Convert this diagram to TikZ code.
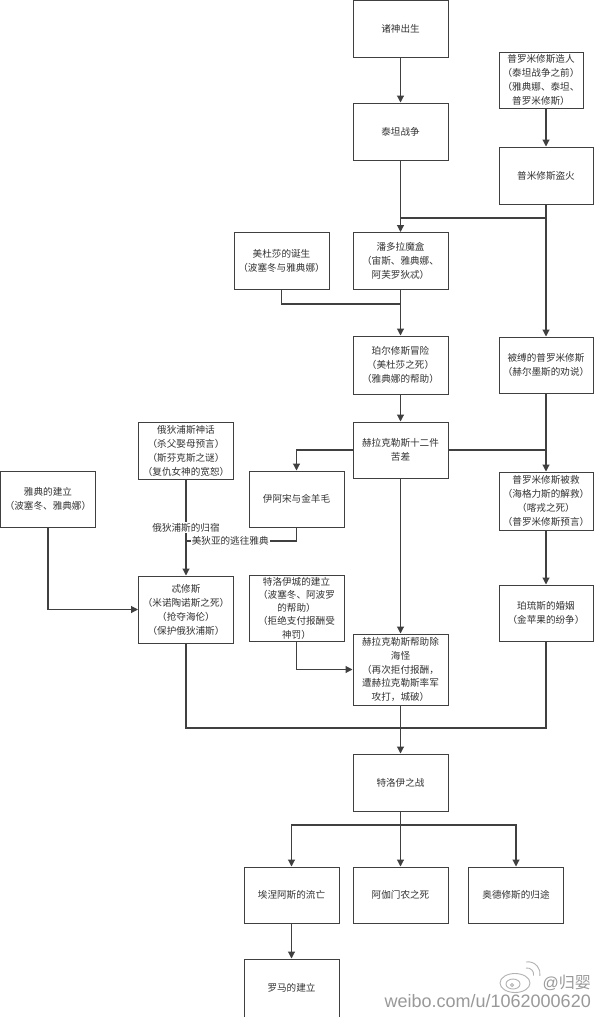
\documentclass[tikz,border=0pt]{standalone}
\usepackage{fontspec}
\setmainfont{Liberation Sans}
\newfontfamily\cn{Noto Sans CJK SC}
\usetikzlibrary{arrows.meta}
\begin{document}
\begin{tikzpicture}[x=1pt,y=-1pt,
  box/.style={draw=black!75, line width=1pt, inner sep=0pt, align=center, fill=white,
    font=\cn\fontsize{9.6}{14}\selectfont, text=black!80, minimum width=95pt, minimum height=57pt},
  ln/.style={draw=black!75, line width=1.1pt},
  arr/.style={ln, -{Triangle[width=7pt,length=7pt]}},
  lab/.style={fill=white, inner sep=1pt, font=\cn\fontsize{9.6}{12}\selectfont, text=black!80}]
\fill[white] (0,0) rectangle (594,1017);
\useasboundingbox (0,0) rectangle (594,1017);

% nodes
\node[box] (gods) at (400.5,28.5) {诸神出生};
\node[box] (titan) at (400.5,131.5) {泰坦战争};
\node[box, minimum width=84pt, minimum height=56pt] (create) at (541,80) {普罗米修斯造人\\（泰坦战争之前）\\（雅典娜、泰坦、\\普罗米修斯）};
\node[box, minimum width=94pt] (fire) at (546,175.5) {普米修斯盗火};
\node[box] (medusa) at (281.5,261) {美杜莎的诞生\\（波塞冬与雅典娜）};
\node[box] (pandora) at (400.5,261) {潘多拉魔盒\\（宙斯、雅典娜、\\阿芙罗狄忒）};
\node[box, minimum height=58pt] (perseus) at (400.5,365) {珀尔修斯冒险\\（美杜莎之死）\\（雅典娜的帮助）};
\node[box, minimum width=94pt, minimum height=56pt] (bound) at (546,365) {被缚的普罗米修斯\\（赫尔墨斯的劝说）};
\node[box, minimum height=56pt] (herc) at (400.5,450) {赫拉克勒斯十二件\\苦差};
\node[box] (oedipus) at (186,450.5) {俄狄浦斯神话\\（杀父娶母预言）\\（斯芬克斯之谜）\\（复仇女神的宽恕）};
\node[box, minimum height=56pt] (athens) at (48,499) {雅典的建立\\（波塞冬、雅典娜）};
\node[box, minimum height=56pt] (jason) at (296.5,499) {伊阿宋与金羊毛};
\node[box, minimum width=94pt, minimum height=58pt] (saved) at (546,501) {普罗米修斯被救\\（海格力斯的解救）\\（喀戎之死）\\（普罗米修斯预言）};
\node[box, minimum height=67pt] (theseus) at (186,609.5) {忒修斯\\（米诺陶诺斯之死）\\（抢夺海伦）\\（保护俄狄浦斯）};
\node[box, minimum height=66pt, font=\cn\fontsize{9.6}{13.3}\selectfont] (troycity) at (296.5,608) {特洛伊城的建立\\（波塞冬、阿波罗\\的帮助）\\（拒绝支付报酬受\\神罚）};
\node[box, minimum height=71pt, font=\cn\fontsize{9.6}{13.6}\selectfont] (herchelp) at (400.5,669.5) {赫拉克勒斯帮助除\\海怪\\（再次拒付报酬，\\遭赫拉克勒斯率军\\攻打，城破）};
\node[box, minimum width=94pt, minimum height=56pt] (peleus) at (546,613) {珀琉斯的婚姻\\（金苹果的纷争）};
\node[box] (trojanwar) at (400.5,782.5) {特洛伊之战};
\node[box, minimum height=56pt] (aeneas) at (291.5,895) {埃涅阿斯的流亡};
\node[box, minimum height=56pt] (agamemnon) at (400.5,895) {阿伽门农之死};
\node[box, minimum height=56pt] (odysseus) at (516,895) {奥德修斯的归途};
\node[box, minimum height=58pt] (rome) at (291.5,988) {罗马的建立};

% junction coordinates
\coordinate (j1) at (400.5,218);
\coordinate (j2) at (400.5,304);
\coordinate (j3) at (186,541);
\coordinate (j4) at (400.5,728);
\coordinate (bar) at (400.5,825);

% connectors
\draw[arr] (gods) -- (titan);
\draw[arr] (fire.north |- create.south) -- (fire.north);
\draw[arr] (titan) -- (pandora);
\draw[ln] (fire.south) |- (j1);
\draw[arr] (fire) -- (bound);
\draw[ln] (medusa.south) |- (j2);
\draw[arr] (pandora) -- (perseus);
\draw[arr] (perseus) -- (herc);
\draw[arr] (bound) -- (saved);
\draw[ln] (herc.east) -- (herc.east -| saved.north);
\draw[arr] (herc.west) -| (jason.north);
\draw[arr] (oedipus) -- node[lab, pos=0.5] {俄狄浦斯的归宿} (theseus);
\draw[ln] (jason.south) |- node[lab, pos=0.8] {美狄亚的逃往雅典} (j3);
\draw[arr] (athens.south) |- (theseus.west);
\draw[arr] (troycity.south) |- (herchelp.west);
\draw[arr] (herc) -- (herchelp);
\draw[arr] (saved) -- (peleus);
\draw[ln] (theseus.south) |- (j4);
\draw[ln] (peleus.south) |- (j4);
\draw[arr] (herchelp) -- (trojanwar);
\draw[arr] (trojanwar) -- (agamemnon);
\draw[arr] (bar) -| (aeneas.north);
\draw[arr] (bar) -| (odysseus.north);
\draw[arr] (aeneas) -- (rome);

% watermark
\begin{scope}[draw=black!30, line width=0.9pt]
  \draw (515,983) ellipse [x radius=15pt, y radius=9.5pt];
  \draw (513,984) ellipse [x radius=7pt, y radius=5pt];
  \draw (512,985) circle [radius=1.6pt];
  \draw (526,968) arc [start angle=100, end angle=-10, radius=6.5pt];
  \draw (526,962) arc [start angle=100, end angle=-10, radius=12pt];
\end{scope}
\node[anchor=east, text=black!40, font=\fontsize{16}{16}\selectfont, inner sep=0pt] (wm1) at (591,983) {@{\cn 归婴}};
\node[anchor=east, text=black!40, font=\fontsize{18}{18}\selectfont, inner sep=0pt] (wm2) at (591,1001) {weibo.com/u/1062000620};
\end{tikzpicture}
\end{document}
